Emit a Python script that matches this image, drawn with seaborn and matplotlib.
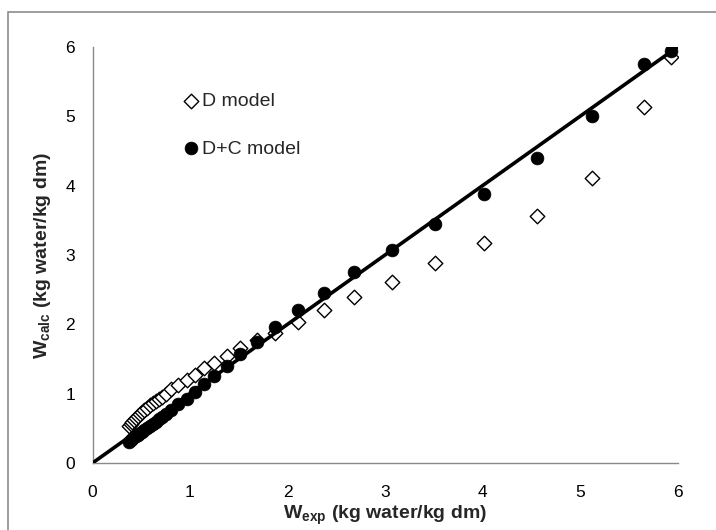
import matplotlib
matplotlib.use("Agg")
import matplotlib.pyplot as plt
from matplotlib.patches import Rectangle
import seaborn as sns
import pandas as pd

# Experimental moisture content (kg water / kg dry matter)
w_exp = [0.37, 0.39, 0.41, 0.43, 0.45, 0.47, 0.49, 0.51, 0.53, 0.56, 0.59, 0.62,
         0.65, 0.68, 0.71, 0.75, 0.81, 0.88, 0.97, 1.05, 1.14, 1.25, 1.38, 1.51,
         1.69, 1.87, 2.11, 2.37, 2.68, 3.07, 3.51, 4.02, 4.56, 5.12, 5.66, 5.93]

# Predicted moisture content, diffusion-only model
w_d_model = [0.53, 0.56, 0.59, 0.62, 0.65, 0.68, 0.71, 0.74, 0.76, 0.79, 0.83, 0.86,
             0.89, 0.92, 0.95, 0.99, 1.07, 1.12, 1.19, 1.27, 1.37, 1.44, 1.54, 1.66,
             1.78, 1.87, 2.04, 2.21, 2.40, 2.61, 2.88, 3.18, 3.56, 4.11, 5.14, 5.86]

# Predicted moisture content, diffusion + convection model
w_dc_model = [0.31, 0.33, 0.35, 0.37, 0.39, 0.41, 0.43, 0.45, 0.47, 0.50, 0.53, 0.56,
              0.59, 0.63, 0.66, 0.70, 0.77, 0.85, 0.93, 1.03, 1.14, 1.25, 1.40, 1.57,
              1.74, 1.96, 2.20, 2.45, 2.75, 3.07, 3.45, 3.88, 4.40, 5.00, 5.76, 5.94]

# 1:1 reference line
line_x = [0, 6]
line_y = [0, 6]

ticks = [0, 1, 2, 3, 4, 5, 6]
series_labels = ["D model", "D+C model"]

sns.set_theme(style="white")
plt.rcParams["font.family"] = ["Liberation Sans", "DejaVu Sans"]
plt.rcParams["mathtext.fontset"] = "custom"
plt.rcParams["mathtext.rm"] = "Liberation Sans"
plt.rcParams["mathtext.bf"] = "Liberation Sans:bold"

fig = plt.figure(figsize=(7.16, 5.30), dpi=100)
ax = fig.add_axes([92.5 / 716, 1 - 463 / 530, 585 / 716, 416 / 530])

df_d = pd.DataFrame({"x": w_exp, "y": w_d_model})
df_dc = pd.DataFrame({"x": w_exp, "y": w_dc_model})
df_line = pd.DataFrame({"x": line_x, "y": line_y})

sns.scatterplot(data=df_d, x="x", y="y", ax=ax, marker="D", s=55,
                facecolor="white", edgecolor="black", linewidth=1.0,
                label=series_labels[0], zorder=3)
sns.scatterplot(data=df_dc, x="x", y="y", ax=ax, marker="o", s=85,
                color="black", edgecolor="black", linewidth=0.5,
                label=series_labels[1], zorder=4)
sns.lineplot(data=df_line, x="x", y="y", ax=ax, color="black",
             linewidth=2.6, zorder=5, legend=False)

ax.set_xlim(0, 6)
ax.set_ylim(0, 6)
ax.set_xticks(ticks)
ax.set_yticks(ticks)
ax.set_xticklabels([str(t) for t in ticks])
ax.set_yticklabels([str(t) for t in ticks])

for side in ["top", "right"]:
    ax.spines[side].set_visible(False)
for side in ["left", "bottom"]:
    ax.spines[side].set_color("#8a8a8a")
    ax.spines[side].set_linewidth(1.0)

ax.tick_params(axis="both", which="major", direction="out", length=4.5,
               width=1.0, color="#8a8a8a", labelcolor="black", labelsize=12.5)
ax.tick_params(axis="x", pad=11)
ax.tick_params(axis="y", pad=8)

ax.set_xlabel(r"$\mathbf{W_{exp}}$ (kg water/kg dm)", fontsize=14,
              fontweight="bold", labelpad=3)
ax.set_ylabel(r"$\mathbf{W_{calc}}$ (kg water/kg dm)", fontsize=14,
              fontweight="bold", labelpad=9)

ax.legend(loc="upper left", bbox_to_anchor=(0.14, 0.91), frameon=False,
          fontsize=14, handletextpad=0.1, labelspacing=1.55,
          handlelength=0.9, borderaxespad=0)

# outer chart-area border
fig.patches.append(Rectangle((8 / 716, -0.1), 1.2, 1 - 12 / 530 + 0.1,
                             transform=fig.transFigure, fill=False,
                             edgecolor="#8c8c8c", linewidth=1.2))

fig.savefig("out.png", dpi=100)
